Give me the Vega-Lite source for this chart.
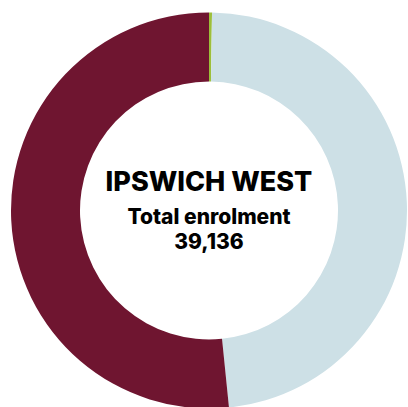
{
  "$schema": "https://vega.github.io/schema/vega-lite/v6.json",
  "width": 408,
  "height": 407,
  "autosize": {"type": "fit", "contains": "padding"},
  "padding": {"left": 10, "top": 14, "right": 0, "bottom": 0},
  "view": {"stroke": null},
  "background": "white",
  "layer": [
    {
      "data": {"values": [
        {"category": "Other", "enrolment": 95, "rank": 1},
        {"category": "Female", "enrolment": 18843, "rank": 2},
        {"category": "Male", "enrolment": 20198, "rank": 3}
      ]},
      "mark": {"type": "arc", "outerRadius": 198, "innerRadius": 129},
      "encoding": {
        "theta": {"field": "enrolment", "type": "quantitative", "stack": true},
        "order": {"field": "rank", "type": "quantitative"},
        "color": {
          "field": "category", "type": "nominal", "legend": null,
          "scale": {"domain": ["Other", "Female", "Male"], "range": ["#9dbf3a", "#cde0e6", "#6f1530"]}
        }
      }
    },
    {
      "data": {"values": [{"t": "IPSWICH WEST"}]},
      "mark": {"type": "text", "font": "Inter", "fontWeight": 800, "fontSize": 27, "dy": -28, "color": "#000000"},
      "encoding": {"text": {"field": "t"}}
    },
    {
      "data": {"values": [{"t": "Total enrolment"}]},
      "mark": {"type": "text", "font": "Inter", "fontWeight": 800, "fontSize": 21, "dy": 7, "color": "#000000"},
      "encoding": {"text": {"field": "t"}}
    },
    {
      "data": {"values": [{"t": "39,136"}]},
      "mark": {"type": "text", "font": "Inter", "fontWeight": 800, "fontSize": 21, "dy": 32, "color": "#000000"},
      "encoding": {"text": {"field": "t"}}
    }
  ]
}
